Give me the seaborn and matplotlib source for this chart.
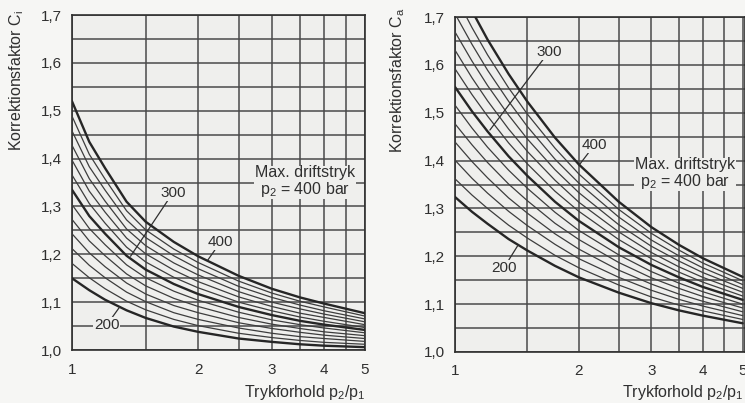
import pandas as pd
import matplotlib
matplotlib.use("Agg")
import matplotlib.pyplot as plt
from matplotlib.ticker import NullFormatter
import seaborn as sns

ratio = [1, 1.1, 1.2, 1.35, 1.5, 1.75, 2, 2.5, 3, 3.5, 4, 5]
# max operating pressure of each curve (bar), lowest curve first
p2_bar = [200, 217, 233, 250, 267, 283, 300, 317, 333, 350, 367, 383, 400]
bold_p2 = [200, 300, 400]

# correction factor Ci (left chart), one row per curve
ci_curves = [
    [1.150, 1.125, 1.105, 1.083, 1.067, 1.049, 1.038, 1.024, 1.017, 1.012, 1.009, 1.006],
    [1.181, 1.151, 1.128, 1.102, 1.084, 1.064, 1.051, 1.035, 1.026, 1.020, 1.016, 1.012],
    [1.212, 1.177, 1.151, 1.121, 1.101, 1.078, 1.064, 1.046, 1.035, 1.028, 1.024, 1.018],
    [1.243, 1.203, 1.174, 1.140, 1.117, 1.093, 1.078, 1.057, 1.045, 1.037, 1.031, 1.024],
    [1.273, 1.228, 1.197, 1.159, 1.134, 1.108, 1.091, 1.068, 1.054, 1.045, 1.038, 1.030],
    [1.304, 1.254, 1.220, 1.178, 1.151, 1.123, 1.104, 1.079, 1.063, 1.053, 1.046, 1.036],
    [1.335, 1.280, 1.243, 1.197, 1.168, 1.138, 1.117, 1.090, 1.073, 1.061, 1.053, 1.042],
    [1.366, 1.306, 1.265, 1.215, 1.184, 1.152, 1.130, 1.100, 1.082, 1.069, 1.060, 1.047],
    [1.397, 1.332, 1.288, 1.234, 1.201, 1.167, 1.143, 1.111, 1.091, 1.077, 1.068, 1.053],
    [1.428, 1.358, 1.311, 1.253, 1.218, 1.182, 1.157, 1.122, 1.100, 1.086, 1.075, 1.059],
    [1.458, 1.383, 1.334, 1.272, 1.235, 1.197, 1.170, 1.133, 1.110, 1.094, 1.082, 1.065],
    [1.489, 1.409, 1.357, 1.291, 1.251, 1.211, 1.183, 1.144, 1.119, 1.102, 1.090, 1.071],
    [1.520, 1.435, 1.380, 1.310, 1.268, 1.226, 1.196, 1.155, 1.128, 1.110, 1.097, 1.077],
]

# correction factor Ca (right chart)
ca_curves = [
    [1.324, 1.293, 1.268, 1.236, 1.212, 1.180, 1.156, 1.124, 1.102, 1.087, 1.076, 1.060],
    [1.362, 1.328, 1.300, 1.265, 1.238, 1.202, 1.176, 1.140, 1.115, 1.098, 1.086, 1.068],
    [1.401, 1.363, 1.332, 1.294, 1.264, 1.225, 1.195, 1.156, 1.129, 1.110, 1.096, 1.076],
    [1.439, 1.398, 1.364, 1.322, 1.290, 1.247, 1.215, 1.171, 1.142, 1.121, 1.106, 1.084],
    [1.477, 1.433, 1.396, 1.351, 1.316, 1.269, 1.235, 1.187, 1.155, 1.133, 1.116, 1.092],
    [1.516, 1.468, 1.428, 1.380, 1.342, 1.292, 1.254, 1.203, 1.168, 1.144, 1.126, 1.100],
    [1.554, 1.503, 1.461, 1.409, 1.368, 1.314, 1.274, 1.219, 1.182, 1.156, 1.136, 1.109],
    [1.592, 1.538, 1.493, 1.437, 1.393, 1.336, 1.294, 1.235, 1.195, 1.167, 1.146, 1.117],
    [1.631, 1.573, 1.525, 1.466, 1.419, 1.359, 1.313, 1.251, 1.208, 1.178, 1.156, 1.125],
    [1.669, 1.608, 1.557, 1.495, 1.445, 1.381, 1.333, 1.266, 1.221, 1.190, 1.166, 1.133],
    [1.707, 1.643, 1.589, 1.524, 1.471, 1.403, 1.353, 1.282, 1.234, 1.201, 1.176, 1.141],
    [1.746, 1.678, 1.621, 1.552, 1.497, 1.426, 1.372, 1.298, 1.248, 1.213, 1.186, 1.149],
    [1.784, 1.713, 1.653, 1.581, 1.523, 1.448, 1.392, 1.314, 1.261, 1.224, 1.196, 1.157],
]

y_ticks = [1.0, 1.1, 1.2, 1.3, 1.4, 1.5, 1.6, 1.7]
y_ticklabels = ["1,0", "1,1", "1,2", "1,3", "1,4", "1,5", "1,6", "1,7"]
x_ticks = [1, 2, 3, 4, 5]

# long-form table for seaborn
rows = []
for p2, ci, ca in zip(p2_bar, ci_curves, ca_curves):
    for r, vi, va in zip(ratio, ci, ca):
        rows.append({"p2": p2, "ratio": r, "ci": vi, "ca": va})
df = pd.DataFrame(rows)

sns.set_style("white")
plt.rcParams["font.family"] = ["Liberation Sans", "DejaVu Sans"]
plt.rcParams["mathtext.default"] = "regular"

paper = "#efefed"
ink = "#2f2f2f"

fig = plt.figure(figsize=(7.45, 4.03), dpi=100, facecolor="#f6f6f4")
ax1 = fig.add_axes([0.0966, 0.1315, 0.393, 0.831])
ax2 = fig.add_axes([0.6107, 0.1266, 0.389, 0.831])


def style_axes(ax, xmax):
    ax.set_facecolor(paper)
    ax.set_xscale("log")
    ax.set_xlim(1, xmax)
    ax.set_ylim(1.0, 1.7)
    ax.set_xticks(x_ticks)
    ax.set_xticklabels([str(t) for t in x_ticks])
    ax.set_xticks([1.5, 2.5, 3.5, 4.5], minor=True)
    ax.xaxis.set_minor_formatter(NullFormatter())
    ax.set_yticks(y_ticks)
    ax.set_yticklabels(y_ticklabels)
    ax.set_yticks([1.05, 1.15, 1.25, 1.35, 1.45, 1.55, 1.65], minor=True)
    ax.grid(True, which="both", color="#4a4a4a", lw=1.1)
    ax.tick_params(which="major", direction="out", length=5, width=1.1,
                   color=ink, labelsize=11, labelcolor=ink, pad=2)
    ax.tick_params(which="minor", length=0)
    ax.tick_params(axis="x", pad=4)
    for s in ax.spines.values():
        s.set_visible(True)
        s.set_color(ink)
        s.set_linewidth(1.2)
    ax.set_xlabel("")
    ax.set_ylabel("")


for ax, col in [(ax1, "ci"), (ax2, "ca")]:
    for p2 in p2_bar:
        sub = df[df["p2"] == p2]
        bold = p2 in bold_p2
        sns.lineplot(data=sub, x="ratio", y=col, ax=ax, color="#262626" if bold else "#3d3d3d",
                     lw=1.7 if bold else 0.9, legend=False, zorder=3)

style_axes(ax1, 5.0)
style_axes(ax2, 5.06)

lab = dict(ha="center", va="center", fontsize=11, color=ink,
           bbox=dict(fc=paper, ec="none", pad=0.6), zorder=5)
lead = dict(arrowstyle="-", color=ink, lw=0.9, shrinkA=0, shrinkB=0)
note = dict(ha="center", va="center", fontsize=11.5, color=ink, linespacing=1.0,
            bbox=dict(fc=paper, ec="none", pad=0.5), zorder=5)

# left chart labels
ax1.annotate("300", xy=(1.38, 1.196), xytext=(1.74, 1.328), arrowprops=lead, **lab)
ax1.annotate("400", xy=(2.11, 1.188), xytext=(2.26, 1.225), arrowprops=lead, **lab)
ax1.annotate("200", xy=(1.30, 1.090), xytext=(1.21, 1.052), arrowprops=lead, **lab)
ax1.text(3.6, 1.352, "Max. driftstryk\np$_2$ = 400 bar", **note)

# right chart labels
ax2.annotate("300", xy=(1.216, 1.464), xytext=(1.69, 1.627), arrowprops=lead, **lab)
ax2.annotate("400", xy=(2.0, 1.390), xytext=(2.18, 1.432), arrowprops=lead, **lab)
ax2.annotate("200", xy=(1.42, 1.222), xytext=(1.315, 1.176), arrowprops=lead, **lab)
ax2.text(3.62, 1.373, "Max. driftstryk\np$_2$ = 400 bar", **note)

# axis titles
fig.text(0.023, 0.975, "Korrektionsfaktor C$_i$", rotation=90, ha="center", va="top",
         fontsize=11.5, color=ink)
fig.text(0.534, 0.98, "Korrektionsfaktor C$_a$", rotation=90, ha="center", va="top",
         fontsize=11.5, color=ink)
fig.text(0.49, 0.027, "Trykforhold p$_2$/p$_1$", ha="right", va="center",
         fontsize=11.5, color=ink)
fig.text(0.835, 0.027, "Trykforhold p$_2$/p$_1$", ha="left", va="center",
         fontsize=11.5, color=ink)

fig.savefig("out.png", dpi=100, facecolor=fig.get_facecolor())
